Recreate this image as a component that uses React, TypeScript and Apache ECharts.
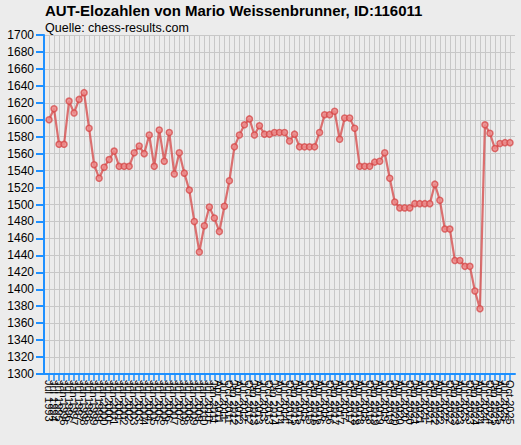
import { useRef, useEffect } from 'react';
import * as echarts from 'echarts';

const TITLE = 'AUT-Elozahlen von Mario Weissenbrunner, ID:116011';
const SUBTITLE = 'Quelle: chess-results.com';

// rating list dates (x axis)
const periods = [
    'Jul 1993', 'Jul 1994', 'Jul 1995', 'Jan 1996', 'Jul 1996', 'Jan 1997', 'Jul 1997', 'Jan 1998', 'Jul 1998', 'Jan 1999',
    'Jul 1999', 'Jan 2000', 'Jul 2000', 'Jan 2001', 'Jul 2001', 'Jan 2002', 'Jul 2002', 'Jan 2003', 'Jul 2003', 'Jan 2004',
    'Jul 2004', 'Jan 2005', 'Jul 2005', 'Jan 2006', 'Jul 2006', 'Jan 2007', 'Jul 2007', 'Jan 2008', 'Jul 2008', 'Jan 2009',
    'Jul 2009', 'Jan 2010', 'Jul 2010', 'Jan 2011', 'Apr 2011', 'Jul 2011', 'Oct 2011', 'Jan 2012', 'Apr 2012', 'Jul 2012',
    'Oct 2012', 'Jan 2013', 'Apr 2013', 'Jul 2013', 'Oct 2013', 'Jan 2014', 'Apr 2014', 'Jul 2014', 'Oct 2014', 'Jan 2015',
    'Apr 2015', 'Jul 2015', 'Oct 2015', 'Jan 2016', 'Apr 2016', 'Jul 2016', 'Oct 2016', 'Jan 2017', 'Apr 2017', 'Jul 2017',
    'Oct 2017', 'Jan 2018', 'Apr 2018', 'Jul 2018', 'Oct 2018', 'Jan 2019', 'Apr 2019', 'Jul 2019', 'Oct 2019', 'Jan 2020',
    'Apr 2020', 'Jul 2020', 'Oct 2020', 'Jan 2021', 'Apr 2021', 'Jul 2021', 'Oct 2021', 'Jan 2022', 'Apr 2022', 'Jul 2022',
    'Oct 2022', 'Jan 2023', 'Apr 2023', 'Jul 2023', 'Oct 2023', 'Jan 2024', 'Apr 2024', 'Jul 2024', 'Oct 2024', 'Jan 2025',
    'Apr 2025', 'Jul 2025', 'Oct 2025',
];

// Elo per list
const ratings = [
    1600, 1613, 1571, 1571, 1622, 1608, 1624, 1632, 1590, 1547,
    1531, 1544, 1553, 1563, 1545, 1545, 1545, 1561, 1569, 1560,
    1582, 1545, 1588, 1551, 1585, 1536, 1561, 1537, 1517, 1480,
    1444, 1475, 1497, 1484, 1468, 1498, 1528, 1568, 1582, 1594,
    1601, 1582, 1593, 1583, 1583, 1585, 1585, 1585, 1575, 1583,
    1568, 1568, 1568, 1568, 1585, 1606, 1606, 1610, 1577, 1602,
    1602, 1590, 1545, 1545, 1545, 1550, 1551, 1561, 1531, 1503,
    1496, 1496, 1496, 1501, 1501, 1501, 1501, 1524, 1505, 1471,
    1471, 1434, 1434, 1427, 1427, 1398, 1377, 1594, 1584, 1566,
    1572, 1573, 1573,
];

const Y_MIN = 1300;
const Y_MAX = 1700;
const Y_STEP = 20;

const BLUE = '#1e90ff';
const FONT = '"Liberation Sans", Arial, sans-serif';

const EloChart = () => {
    const chartRef = useRef<HTMLDivElement>(null);

    useEffect(() => {
        if (!chartRef.current) return;
        const chart = echarts.init(chartRef.current, null, { renderer: 'svg' });

        // empty slot at each end so the first / last point sit one step in from the edges
        const cats = ['', ...periods, ''];
        const inner = (i: number) => i > 0 && i < cats.length - 1;

        const option: echarts.EChartsOption = {
            animation: false,
            backgroundColor: '#ececec',
            title: [
                {
                    text: TITLE,
                    left: 45,
                    top: 3,
                    padding: 0,
                    textStyle: { fontSize: 15, fontWeight: 'bold', color: '#000', fontFamily: FONT },
                },
                {
                    text: SUBTITLE,
                    left: 45,
                    top: 21,
                    padding: 0,
                    textStyle: { fontSize: 12.5, fontWeight: 'normal', color: '#000', fontFamily: FONT },
                },
            ],
            grid: { left: 44, right: 6, top: 35, bottom: 71, containLabel: false },
            xAxis: {
                type: 'category',
                data: cats,
                boundaryGap: false,
                axisLine: { lineStyle: { color: BLUE, width: 2 } },
                axisTick: { interval: (i: number) => inner(i), length: 7, lineStyle: { color: BLUE, width: 1.5 } },
                axisLabel: {
                    interval: 0,
                    rotate: -90,
                    margin: 6,
                    fontSize: 11,
                    color: '#000',
                    fontFamily: FONT,
                },
                splitLine: { show: true, interval: (i: number) => inner(i), lineStyle: { color: '#c8c8c8', width: 1 } },
            },
            yAxis: {
                type: 'value',
                min: Y_MIN,
                max: Y_MAX,
                interval: Y_STEP,
                axisLine: { show: true, lineStyle: { color: BLUE, width: 2 } },
                axisTick: { show: true, length: 8, lineStyle: { color: BLUE, width: 2 } },
                axisLabel: {
                    margin: 10,
                    fontSize: 12,
                    color: '#000',
                    fontFamily: FONT,
                    formatter: (v: number) => String(v),
                },
                splitLine: { show: true, lineStyle: { color: '#c8c8c8', width: 1 } },
            },
            series: [
                {
                    type: 'line',
                    data: ['-', ...ratings, '-'],
                    showAllSymbol: true,
                    symbol: 'circle',
                    symbolSize: 6,
                    lineStyle: { color: 'rgba(214,70,70,0.75)', width: 2.2 },
                    itemStyle: {
                        color: 'rgba(236,140,140,0.85)',
                        borderColor: 'rgba(214,70,70,0.75)',
                        borderWidth: 1.5,
                    },
                },
            ],
        };

        chart.setOption(option);

        return () => {
            chart.dispose();
        };
    }, []);

    return <div ref={chartRef} style={{ width: '521px', height: '445px' }} />;
};

export default function App() {
    return (
        <div style={{ position: 'fixed', left: 0, top: 0, width: '521px', height: '445px', background: '#ececec' }}>
            <EloChart />
        </div>
    );
}
